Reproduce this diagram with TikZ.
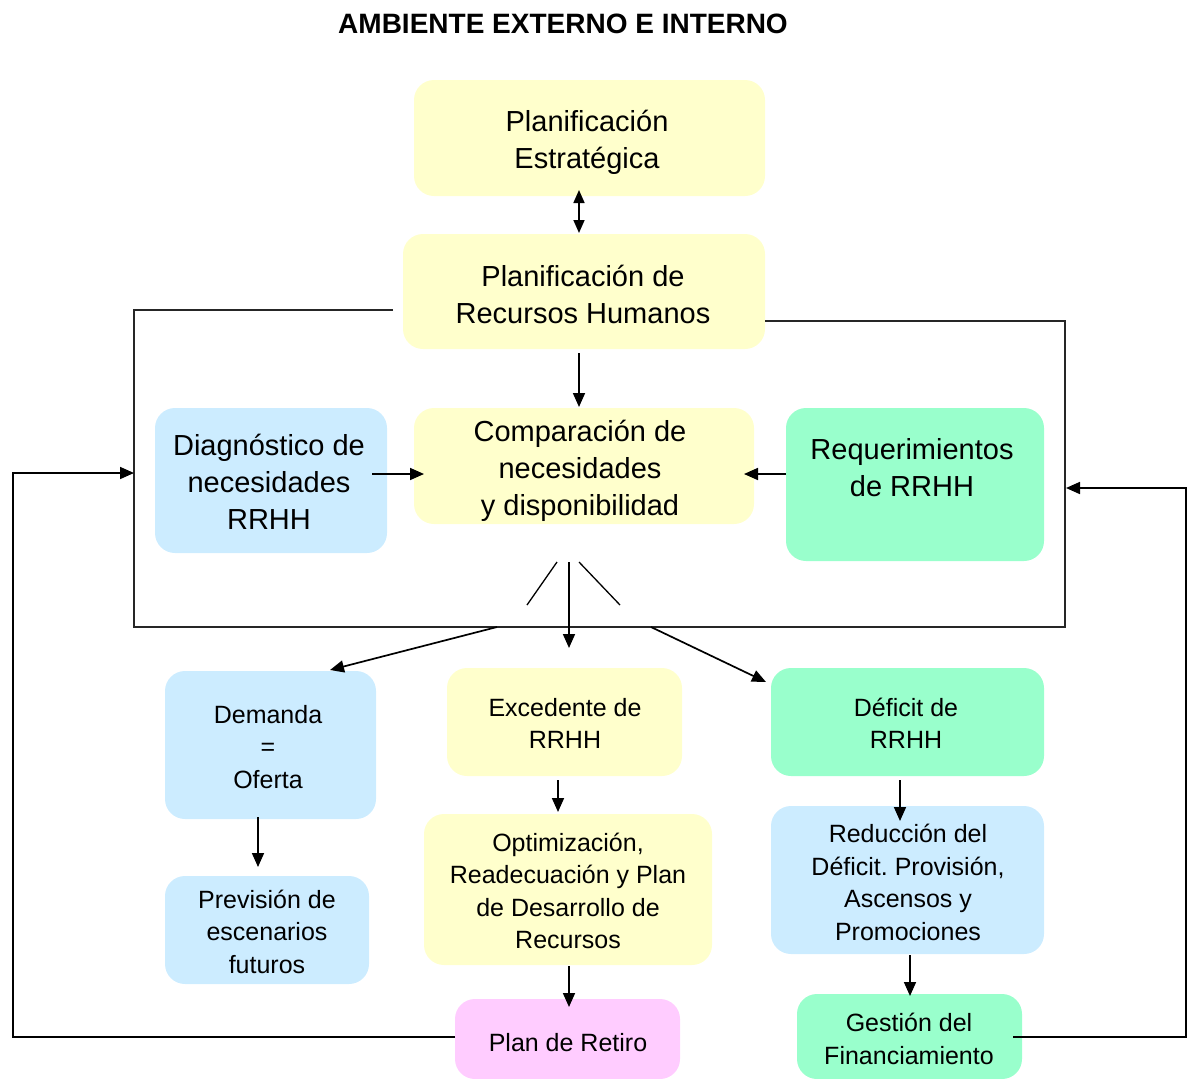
\documentclass[tikz,border=0pt]{standalone}
\usepackage{fontspec}
\setmainfont{Liberation Sans}
\usetikzlibrary{arrows.meta}
\frenchspacing
\definecolor{cyel}{HTML}{FFFFCC}
\definecolor{cblu}{HTML}{CCECFF}
\definecolor{cgrn}{HTML}{99FFCC}
\definecolor{cpnk}{HTML}{FFCCFF}
\tikzset{
  box/.style={draw=none, rounded corners=20pt, inner sep=0pt},
  bigtxt/.style={align=center, inner sep=0pt, font=\fontsize{29}{37}\selectfont},
  smtxt/.style={align=center, inner sep=0pt, font=\fontsize{25}{32.5}\selectfont},
  arr/.style={line width=1.7pt, -{Triangle[length=14pt,width=12pt]}},
  darr/.style={line width=1.7pt, {Triangle[length=13pt,width=11pt]}-{Triangle[length=13pt,width=11pt]}},
  frame/.style={line width=1.3pt, draw=black!85},
  plain/.style={line width=1.3pt}
}
\begin{document}
\begin{tikzpicture}[x=1pt,y=-1pt]
\useasboundingbox (0,0) rectangle (1189,1079);
% title
\node[font=\fontsize{28}{34}\selectfont\bfseries] (title) at (563,24) {AMBIENTE EXTERNO E INTERNO};
% boxes
\node[box, fill=cyel, minimum width=351pt, minimum height=116pt] (pe) at (589.5,138) {};
\node[box, fill=cyel, minimum width=362pt, minimum height=115pt] (prh) at (584,291.5) {};
\node[box, fill=cyel, minimum width=340pt, minimum height=116pt] (cmp) at (584,466) {};
\node[box, fill=cblu, minimum width=232pt, minimum height=145pt] (dn) at (271,480.5) {};
\node[box, fill=cgrn, minimum width=258pt, minimum height=153pt] (req) at (915,484.5) {};
\node[box, fill=cblu, minimum width=211pt, minimum height=148pt] (dem) at (270.5,745) {};
\node[box, fill=cyel, minimum width=235pt, minimum height=108pt] (exc) at (564.5,722) {};
\node[box, fill=cgrn, minimum width=273pt, minimum height=108pt] (def) at (907.5,722) {};
\node[box, fill=cblu, minimum width=204pt, minimum height=108pt] (prev) at (267,930) {};
\node[box, fill=cyel, minimum width=288pt, minimum height=151pt] (opt) at (568,889.5) {};
\node[box, fill=cblu, minimum width=273pt, minimum height=148pt] (red) at (907.5,880) {};
\node[box, fill=cpnk, minimum width=225pt, minimum height=80pt] (ret) at (567.5,1039) {};
\node[box, fill=cgrn, minimum width=225pt, minimum height=85pt] (ges) at (909.5,1036.5) {};
% texts
\node[bigtxt] (tpe) at (587,142.5) {Planificación\\Estratégica};
\node[bigtxt] (tprh) at (583,294) {Planificación de\\Recursos Humanos};
\node[bigtxt] (tcmp) at (580,470.5) {Comparación de\\necesidades\\y disponibilidad};
\node[bigtxt] (tdn) at (269,482) {Diagnóstico de\\necesidades\\RRHH};
\node[bigtxt] (treq) at (912,468) {Requerimientos\\de RRHH};
\node[smtxt] (tdem) at (268,747) {Demanda\\=\\Oferta};
\node[smtxt] (texc) at (565,723.5) {Excedente de\\RRHH};
\node[smtxt] (tdef) at (906,723.5) {Déficit de\\RRHH};
\node[smtxt] (tprev) at (267,931.5) {Previsión de\\escenarios\\futuros};
\node[smtxt] (topt) at (568,891) {Optimización,\\Readecuación y Plan\\de Desarrollo de\\Recursos};
\node[smtxt] (tred) at (908,882.5) {Reducción del\\Déficit. Provisión,\\Ascensos y\\Promociones};
\node[smtxt] (tret) at (568,1043) {Plan de Retiro};
\node[smtxt] (tges) at (909,1039) {Gestión del\\Financiamiento};
% coordinates
\coordinate (d1) at (579,190);
\coordinate (d2) at (579,233);
\coordinate (p1) at (579,353);
\coordinate (p2) at (579,407);
\coordinate (fl) at (393,310);
\coordinate (fr) at (765,321);
\coordinate (dna) at (372,474);
\coordinate (dnb) at (424,474);
\coordinate (rqa) at (786,474);
\coordinate (rqb) at (744,474);
\coordinate (lret) at (455,1037);
\coordinate (lin) at (134,473);
\coordinate (rges) at (1013,1037);
\coordinate (rin) at (1066,488);
\coordinate (sa) at (557,562);
\coordinate (sb) at (527,605);
\coordinate (sc) at (569,562);
\coordinate (sd) at (569,648);
\coordinate (se) at (579,562);
\coordinate (sf) at (620,605);
\coordinate (ba) at (497,627);
\coordinate (bb) at (330,670);
\coordinate (bc) at (651,627);
\coordinate (bd) at (766,682);
\coordinate (ea) at (258,817);
\coordinate (eb) at (258,867);
\coordinate (xa) at (558,780);
\coordinate (xb) at (558,812);
\coordinate (oa) at (569,966);
\coordinate (ob) at (569,1007);
\coordinate (fa) at (900,780);
\coordinate (fb) at (900,821);
\coordinate (ra) at (910,955);
\coordinate (rb) at (910,996);
% connectors
\draw[darr] (d1) -- (d2);
\draw[arr] (p1) -- (p2);
\draw[frame] (fl) -- (134,310) -- (134,627) -- (1065,627) -- (1065,321) -- (fr);
\draw[arr] (dna) -- (dnb);
\draw[arr] (rqa) -- (rqb);
\draw[arr] (lret) -- (13,1037) -- (13,473) -- (lin);
\draw[arr] (rges) -- (1186,1037) -- (1186,488) -- (rin);
\draw[plain] (sa) -- (sb);
\draw[arr] (sc) -- (sd);
\draw[plain] (se) -- (sf);
\draw[arr] (ba) -- (bb);
\draw[arr] (bc) -- (bd);
\draw[arr] (ea) -- (eb);
\draw[arr] (xa) -- (xb);
\draw[arr] (oa) -- (ob);
\draw[arr] (fa) -- (fb);
\draw[arr] (ra) -- (rb);
\end{tikzpicture}
\end{document}
